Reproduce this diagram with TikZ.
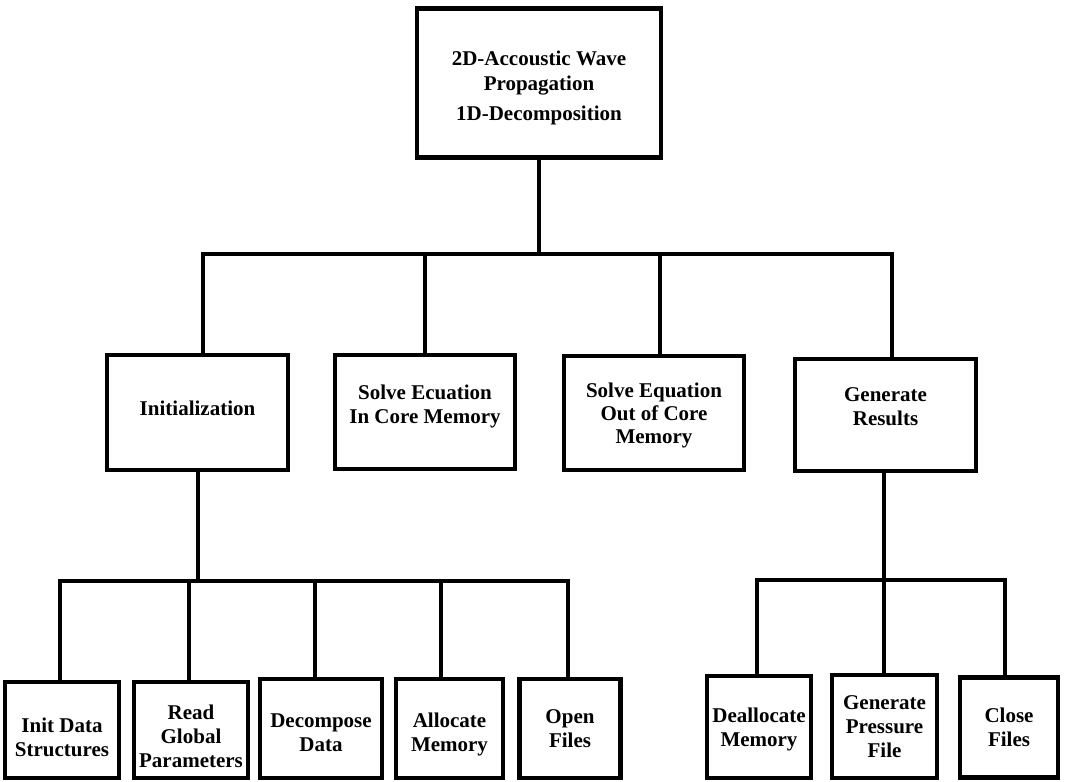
\documentclass[tikz,border=0pt]{standalone}
\usepackage{fontspec}
\setmainfont{Liberation Serif}
\begin{document}
\begin{tikzpicture}[x=1pt,y=-1pt,
  box/.style={draw, line width=4.5pt, rectangle, align=center, inner sep=0pt,
    font=\fontsize{21}{24}\selectfont\bfseries},
  conn/.style={line width=3.5pt}]
\useasboundingbox[fill=white] (0,0) rectangle (1066,782);
% top
\node[box, minimum width=244pt, minimum height=149pt, text height=74pt, text depth=0pt, font=\fontsize{21}{25}\selectfont\bfseries] (top) at (539,83) {2D-Accoustic Wave\\Propagation\\[5pt]1D-Decomposition};
% middle row
\node[box, minimum width=181pt, minimum height=115pt, text depth=8pt] (init) at (197.5,412.5) {Initialization};
\node[box, minimum width=180pt, minimum height=114pt, text depth=16pt] (solvein) at (425,412) {Solve Ecuation\\In Core Memory};
\node[box, minimum width=180pt, minimum height=114pt, text height=65pt, font=\fontsize{21}{23}\selectfont\bfseries] (solveout) at (654,413) {Solve Equation\\Out of Core\\Memory};
\node[box, minimum width=181pt, minimum height=112pt, text depth=16pt] (gen) at (885.5,415) {Generate\\Results};
% bottom row
\node[box, minimum width=114pt, minimum height=96pt, text height=52pt, text depth=0pt] (b1) at (62,730) {Init Data\\Structures};
\node[box, minimum width=114pt, minimum height=96pt, text height=74pt, text depth=0pt] (b2) at (191,730) {Read\\Global\\Parameters};
\node[box, minimum width=122pt, minimum height=99pt, text height=46pt, text depth=0pt] (b3) at (321,728.5) {Decompose\\Data};
\node[box, minimum width=107pt, minimum height=99pt, text height=46pt, text depth=0pt] (b4) at (449.5,728.5) {Allocate\\Memory};
\node[box, minimum width=101pt, minimum height=99pt] (b5) at (570,728.5) {Open\\Files};
\node[box, minimum width=104pt, minimum height=102pt, text depth=0pt] (b6) at (759,727) {Deallocate\\Memory};
\node[box, minimum width=105pt, minimum height=103pt] (b7) at (884.5,726.5) {Generate\\Pressure\\File};
\node[box, minimum width=98pt, minimum height=100pt] (b8) at (1009,727.5) {Close\\Files};
% bus coordinates
\coordinate (busA) at (539,254);
\coordinate (busB) at (198,581);
\coordinate (busC) at (884,580);
% top level connectors
\draw[conn] (top.south) -- (busA);
\draw[conn] ([xshift=5.5pt]init.north) |- (busA) -| ([xshift=6.5pt]gen.north);
\draw[conn] (solvein.north) -- (solvein.north |- busA);
\draw[conn] ([xshift=6pt]solveout.north) -- ([xshift=6pt]solveout.north |- busA);
% initialization subtree
\draw[conn] (init.south -| busB) -- (busB);
\draw[conn] ([xshift=-2pt]b1.north) |- (busB) -| ([xshift=-2pt]b5.north);
\draw[conn] ([xshift=-2pt]b2.north) -- ([xshift=-2pt]b2.north |- busB);
\draw[conn] ([xshift=-6pt]b3.north) -- ([xshift=-6pt]b3.north |- busB);
\draw[conn] ([xshift=-8.5pt]b4.north) -- ([xshift=-8.5pt]b4.north |- busB);
% generate results subtree
\draw[conn] (gen.south -| busC) -- (busC);
\draw[conn] ([xshift=-2pt]b6.north) |- (busC) -| ([xshift=-4pt]b8.north);
\draw[conn] (b7.north -| busC) -- (busC);
\end{tikzpicture}
\end{document}
